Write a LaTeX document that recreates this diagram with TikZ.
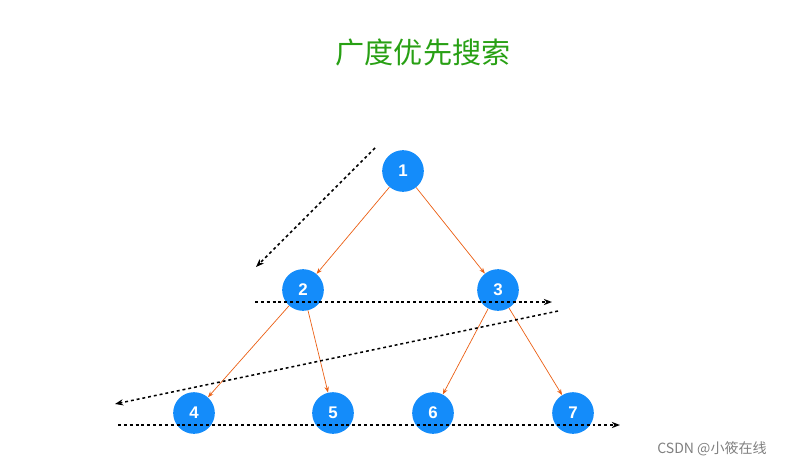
\documentclass[tikz,border=0pt]{standalone}
\usepackage{fontspec}
\newfontfamily\cjk{Noto Sans CJK SC}
\setsansfont{Liberation Sans}
\usetikzlibrary{arrows.meta}
\definecolor{nodeblue}{RGB}{20,140,250}
\definecolor{edgeorange}{RGB}{235,95,20}
\definecolor{titlegreen}{RGB}{40,160,20}
\def\treenode{\node[circle,fill=nodeblue,text=white,font=\sffamily\bfseries\Large,minimum size=1.25cm,inner sep=0pt]}
\def\drawedge{\draw[color=edgeorange, line width=0.6pt, -{Stealth[length=5pt]}]}
\def\drawscan{\draw[black, line width=1.3pt, dash pattern=on 2.5pt off 2.5pt, -{Stealth[length=7pt]}]}
\begin{document}
\begin{tikzpicture}[x=0.03cm,y=-0.03cm]
\useasboundingbox (0,0) rectangle (797,467);
\node[text=titlegreen,font=\cjk\Huge] (title) at (423,52) {广度优先搜索};
\treenode (n1) at (403,171) {1};
\treenode (n2) at (303,290) {2};
\treenode (n3) at (498,290) {3};
\treenode (n4) at (194,413) {4};
\treenode (n5) at (333,413) {5};
\treenode (n6) at (433,413) {6};
\treenode (n7) at (573,413) {7};
\drawedge (n1) to (n2);
\drawedge (n1) to (n3);
\drawedge (n2) to (n4);
\drawedge (n2) to (n5);
\drawedge (n3) to (n6);
\drawedge (n3) to (n7);
\coordinate (s1a) at (375,148);
\coordinate (s1b) at (256,267);
\coordinate (s2a) at (255,302);
\coordinate (s2b) at (552,302);
\coordinate (s3a) at (558,311);
\coordinate (s3b) at (115,404);
\coordinate (s4a) at (118,425);
\coordinate (s4b) at (620,425);
\drawscan (s1a) to (s1b);
\drawscan (s2a) to (s2b);
\drawscan (s3a) to (s3b);
\drawscan (s4a) to (s4b);
\node[text=gray,font=\cjk\large] (mark) at (712,449) {CSDN @小筱在线};
\end{tikzpicture}
\end{document}
